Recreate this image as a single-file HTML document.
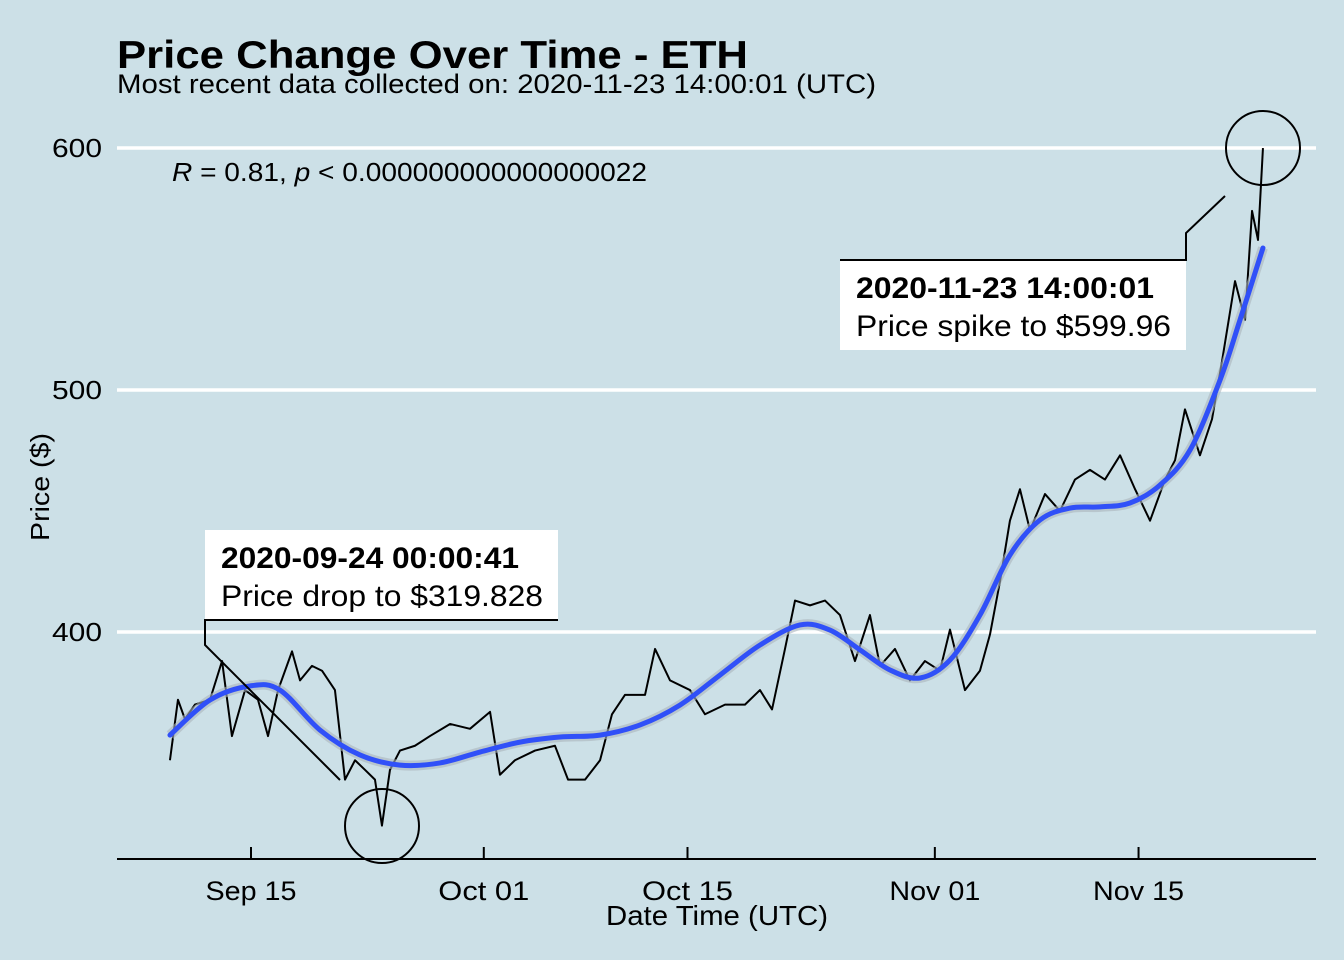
<!DOCTYPE html>
<html><head><meta charset="utf-8"><style>
body{margin:0;background:#cce0e7;}
svg{display:block;font-family:"Liberation Sans",Arial,sans-serif;}
</style></head><body>
<svg id="chart" width="1344" height="960">
<rect width="1344" height="960" fill="#cce0e7"/>
<text x="117" y="68" font-size="39" font-weight="bold" textLength="631" lengthAdjust="spacingAndGlyphs">Price Change Over Time - ETH</text>
<text x="117" y="93" font-size="27" textLength="759" lengthAdjust="spacingAndGlyphs">Most recent data collected on: 2020-11-23 14:00:01 (UTC)</text>
<g id="grid"></g>
<g id="yticks"></g>
<g id="xticks"></g>
<line x1="117" y1="859" x2="1316" y2="859" stroke="#000" stroke-width="2"/>
<text x="172" y="181" font-size="26" textLength="475" lengthAdjust="spacingAndGlyphs"><tspan font-style="italic">R</tspan> = 0.81, <tspan font-style="italic">p</tspan> &lt; 0.000000000000000022</text>
<g id="series"></g>
<g>
<circle cx="382" cy="826" r="37" fill="none" stroke="#000" stroke-width="2"/>
<polyline points="558,620 205,620 205,645 340,780" fill="none" stroke="#000" stroke-width="2"/>
<rect x="205" y="530" width="353" height="89" fill="#fff"/>
<text x="221" y="568" font-size="30" font-weight="bold" textLength="298" lengthAdjust="spacingAndGlyphs">2020-09-24 00:00:41</text>
<text x="221" y="606" font-size="30" textLength="322" lengthAdjust="spacingAndGlyphs">Price drop to $319.828</text>
</g>
<g>
<circle cx="1263" cy="148" r="37" fill="none" stroke="#000" stroke-width="2"/>
<polyline points="840,260 1186,260 1186,233 1225,196" fill="none" stroke="#000" stroke-width="2"/>
<rect x="840" y="261" width="346" height="89" fill="#fff"/>
<text x="856" y="298" font-size="30" font-weight="bold" textLength="298" lengthAdjust="spacingAndGlyphs">2020-11-23 14:00:01</text>
<text x="856" y="336" font-size="30" textLength="315" lengthAdjust="spacingAndGlyphs">Price spike to $599.96</text>
</g>
<text transform="translate(49,487) rotate(-90)" text-anchor="middle" font-size="26" textLength="108" lengthAdjust="spacingAndGlyphs">Price ($)</text>
<text x="717" y="925" text-anchor="middle" font-size="28" textLength="222" lengthAdjust="spacingAndGlyphs">Date Time (UTC)</text>
</svg>
<script>
const yTicks=[400,500,600];
const xTickDays=[0,16,30,47,61];
const xTickLabels=["Sep 15","Oct 01","Oct 15","Nov 01","Nov 15"];
const priceDays=[-5.57,-5.02,-4.54,-3.85,-2.82,-1.99,-1.31,-0.41,0.48,1.17,1.86,2.82,3.37,4.19,4.88,5.77,6.46,7.15,7.84,8.52,9.00,9.55,10.24,11.27,12.30,13.68,15.05,16.43,17.11,18.14,19.52,20.89,21.79,22.96,23.99,24.81,25.70,27.08,27.77,28.80,30.17,31.20,32.58,33.95,34.98,35.81,36.70,37.39,38.42,39.45,40.48,41.51,42.54,43.23,44.26,45.29,46.32,47.35,48.04,49.07,50.10,50.79,51.48,52.16,52.85,53.54,54.57,55.60,56.63,57.66,58.69,59.73,60.76,61.79,62.82,63.51,64.19,65.22,66.05,66.74,67.63,68.32,68.80,69.21,69.55];
const prices=[347,372,364,370,372,388,357,376,372,357,376,392,380,386,384,376,339,347,343,339,320,343,351,353,357,362,360,367,341,347,351,353,339,339,347,366,374,374,393,380,376,366,370,370,376,368,393,413,411,413,407,388,407,386,393,380,388,384,401,376,384,399,421,446,459,442,457,450,463,467,463,473,459,446,463,471,492,473,488,512,545,529,574,562,599.96];
const trendDays=[-5.57,-2.82,-0.07,1.99,4.74,7.49,10.24,12.99,15.74,18.49,21.24,23.99,26.74,29.48,32.23,34.98,37.73,39.79,41.86,43.92,45.98,48.04,50.10,52.16,54.23,56.29,58.35,60.41,62.47,64.54,66.60,67.97,69.55];
const trendPrices=[357.4,371.9,377.7,376.0,359.5,349.2,345.0,345.9,350.4,354.5,356.6,357.4,361.6,369.8,382.2,394.6,402.9,400.8,392.6,384.3,381.0,388.4,407.0,431.8,446.3,451.2,451.7,453.3,460.7,475.2,504.1,528.9,558.7];
const NS="http://www.w3.org/2000/svg";
const xs=d=>251+d*14.55;
const ys=v=>632-(v-400)*2.42;
function mk(tag,attrs,parent){const e=document.createElementNS(NS,tag);for(const k in attrs)e.setAttribute(k,attrs[k]);document.getElementById(parent).appendChild(e);return e;}
yTicks.forEach(t=>{
 const g=mk('line',{x1:117,x2:1316,y1:ys(t),y2:ys(t),stroke:'#fff','stroke-width':3.5},'grid');
 
 
 const l=mk('text',{x:102,y:ys(t)+9,'text-anchor':'end','font-size':26,textLength:50,lengthAdjust:'spacingAndGlyphs'},'yticks');
 l.textContent=t;
 
 
});
xTickDays.forEach((d,i)=>{
 const t=mk('line',{x1:xs(d),x2:xs(d),y1:847,y2:859,stroke:'#000','stroke-width':2},'xticks');
 
 
 const l=mk('text',{x:xs(d),y:900,'text-anchor':'middle','font-size':27,textLength:91,lengthAdjust:'spacingAndGlyphs'},'xticks');
 l.textContent=xTickLabels[i];
 
 
});
const p=mk('polyline',{points:priceDays.map((d,i)=>xs(d)+','+ys(prices[i])).join(' '),fill:'none',stroke:'#000','stroke-width':2,'stroke-linejoin':'round'},'series');


function smooth(){
 const pts=trendDays.map((d,i)=>[xs(d),ys(trendPrices[i])]);
 let s='M'+pts[0][0]+','+pts[0][1];
 for(let i=0;i<pts.length-1;i++){
  const p0=pts[Math.max(0,i-1)],p1=pts[i],p2=pts[i+1],p3=pts[Math.min(pts.length-1,i+2)];
  const c1=[p1[0]+(p2[0]-p0[0])/6,p1[1]+(p2[1]-p0[1])/6];
  const c2=[p2[0]-(p3[0]-p1[0])/6,p2[1]-(p3[1]-p1[1])/6];
  s+=' C'+c1[0]+','+c1[1]+' '+c2[0]+','+c2[1]+' '+p2[0]+','+p2[1];
 }
 return s;
}
const band=mk('path',{d:smooth(),fill:'none',stroke:'#aab4bc','stroke-width':10,'stroke-linejoin':'round','opacity':0.6},'series');


const tr=mk('path',{d:smooth(),fill:'none',stroke:'#3050f8','stroke-width':5,'stroke-linejoin':'round','stroke-linecap':'round'},'series');


</script>
</body></html>
